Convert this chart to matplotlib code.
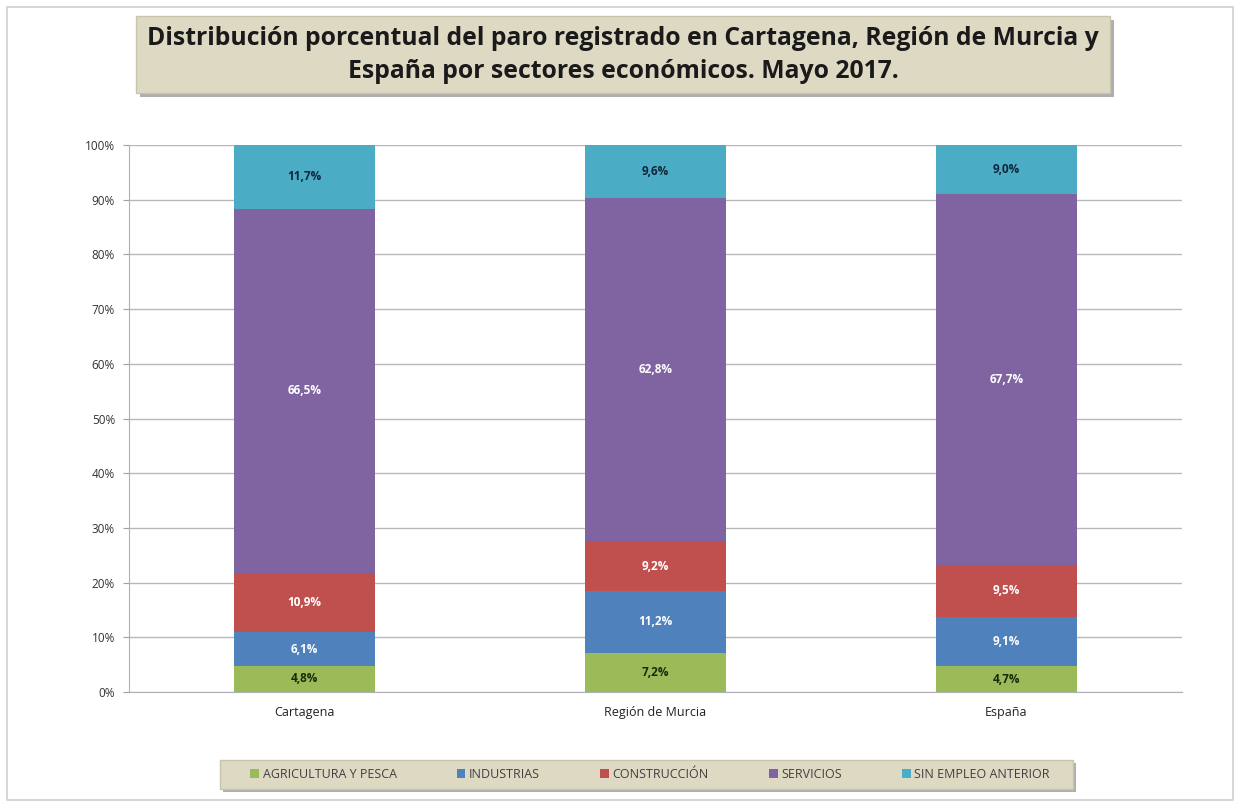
import matplotlib.pyplot as plt
import numpy as np
from matplotlib.patches import Rectangle
from matplotlib.ticker import FuncFormatter

categories = ['Cartagena', 'Región de Murcia', 'España']
sectors = ['AGRICULTURA Y PESCA', 'INDUSTRIAS', 'CONSTRUCCIÓN', 'SERVICIOS', 'SIN EMPLEO ANTERIOR']
agricultura = [4.8, 7.2, 4.7]
industrias = [6.1, 11.2, 9.1]
construccion = [10.9, 9.2, 9.5]
servicios = [66.5, 62.8, 67.7]
sin_empleo = [11.7, 9.6, 9.0]

colors = ['#9bbb59', '#4f81bd', '#c0504d', '#8064a2', '#4bacc6']
label_colors = ['#1a2a0a', 'white', 'white', 'white', '#10263a']

plt.rcParams['font.family'] = ['Open Sans', 'DejaVu Sans']

fig = plt.figure(figsize=(12.37, 8.06), dpi=100, facecolor='white')
W, H = 1237, 806

def px(x0, y0, x1, y1):
    # pixel box (top-left origin) -> figure fraction rect
    return [x0 / W, 1 - y1 / H, (x1 - x0) / W, (y1 - y0) / H]

def shadow_box(x0, y0, x1, y1, off):
    for (dx, fc, ec, a) in [(off, '#9a9a9a', 'none', 0.8), (0, '#ddd9c3', '#c8c4ae', 1)]:
        r = px(x0 + dx, y0 + dx, x1 + dx, y1 + dx)
        fig.patches.append(Rectangle((r[0], r[1]), r[2], r[3], transform=fig.transFigure,
                                     facecolor=fc, edgecolor=ec, lw=1, alpha=a))

# outer frame
fig.patches.append(Rectangle((7 / W, 1 - 800 / H), 1226 / W, 793 / H, transform=fig.transFigure,
                             facecolor='none', edgecolor='#d0d0d0', lw=1.2))

# title box
shadow_box(136, 16, 1110, 93, 4)
fig.text(623 / W, 1 - 55 / H,
         'Distribución porcentual del paro registrado en Cartagena, Región de Murcia y\n'
         'España por sectores económicos. Mayo 2017.',
         ha='center', va='center', fontsize=17.8, fontweight='bold', color='#1a1a1a',
         linespacing=1.4)

ax = fig.add_axes(px(129, 145, 1182, 692))
series = [agricultura, industrias, construccion, servicios, sin_empleo]
x = np.arange(len(categories))
bottom = np.zeros(len(categories))
for name, vals, col, lc in zip(sectors, series, colors, label_colors):
    vals = np.array(vals)
    ax.bar(x, vals, 0.4, bottom=bottom, color=col, label=name, zorder=3)
    for xi, b, v in zip(x, bottom, vals):
        ax.text(xi, b + v / 2, f'{v:.1f}%'.replace('.', ','), ha='center', va='center',
                fontsize=8.5, fontweight='bold', color=lc, zorder=4)
    bottom += vals

ax.set_xlim(-0.5, 2.5)
ax.set_ylim(0, 100)
ax.set_yticks(np.arange(0, 101, 10))
ax.yaxis.set_major_formatter(FuncFormatter(lambda v, p: f'{int(v)}%'))
ax.set_xticks(x)
ax.set_xticklabels(categories)
ax.tick_params(axis='y', labelsize=8.5, labelcolor='#333333', length=4, color='#a0a0a0', pad=6)
ax.tick_params(axis='x', labelsize=9, labelcolor='#222222', length=0, pad=10)
ax.grid(axis='y', color='#b8b8b8', lw=1, zorder=0)
for s in ('top', 'right'):
    ax.spines[s].set_visible(False)
ax.spines['left'].set_color('#b0b0b0')
ax.spines['bottom'].set_color('#b0b0b0')

# legend box
shadow_box(220, 760, 1073, 789, 3)
handles, labels = ax.get_legend_handles_labels()
leg = fig.legend(handles, labels, loc='center', bbox_to_anchor=(650 / W, 1 - 774 / H),
                 ncol=5, frameon=False, fontsize=9, handlelength=0.7, handleheight=0.7,
                 handletextpad=0.3, columnspacing=4.8)
for t in leg.get_texts():
    t.set_color('#404040')

fig.savefig('out.png', dpi=100, facecolor='white')
